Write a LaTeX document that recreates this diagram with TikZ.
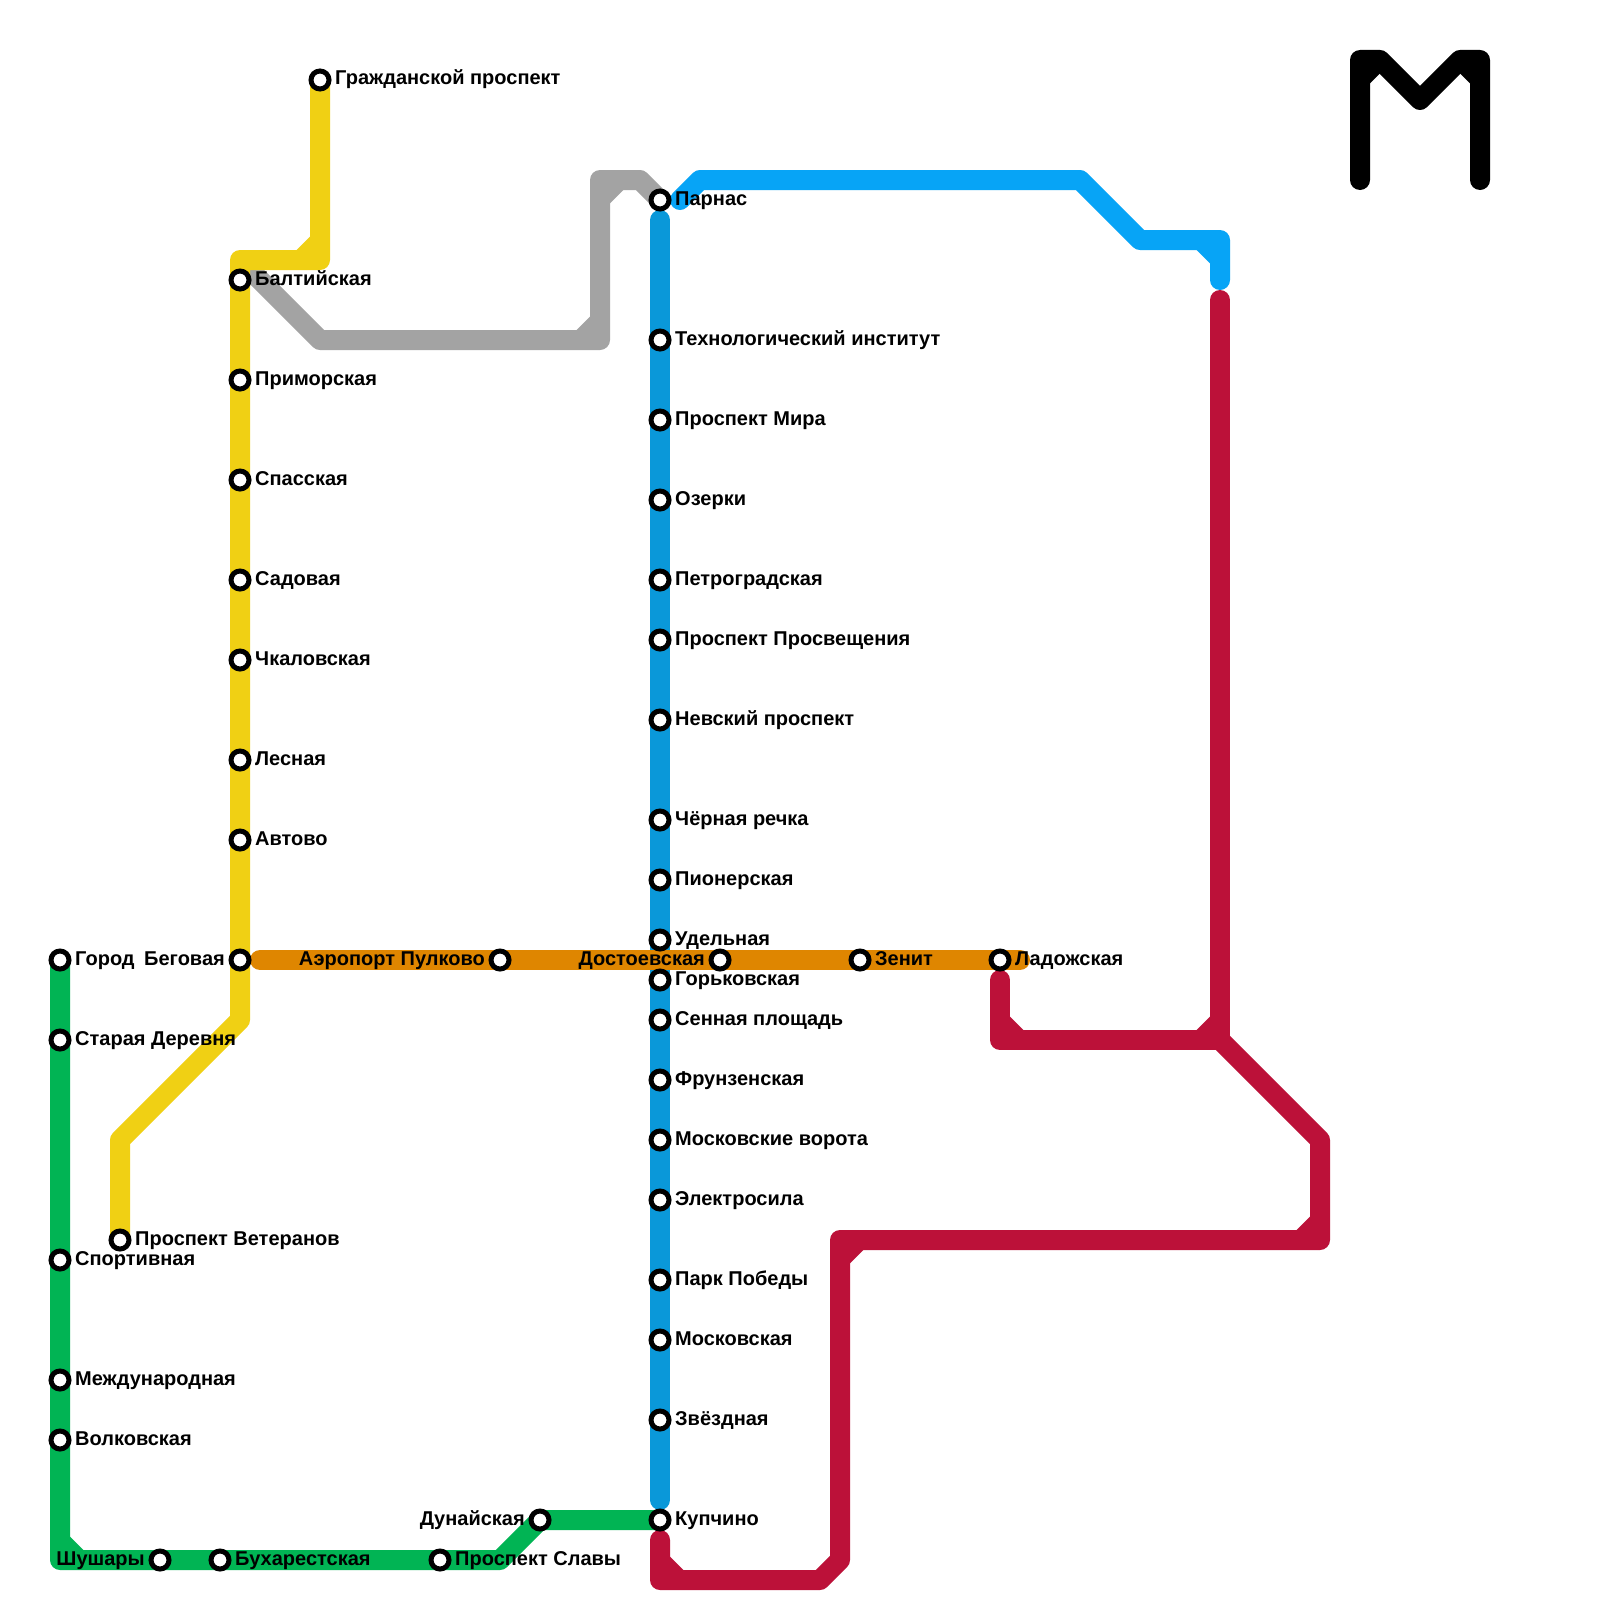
\documentclass[tikz,border=0pt]{standalone}
\usepackage{fontspec}
\setmainfont{Liberation Sans}
\usetikzlibrary{backgrounds}
\definecolor{lnyellow}{HTML}{F0D014}
\definecolor{lngray}{HTML}{A3A3A3}
\definecolor{lngreen}{HTML}{01B454}
\definecolor{lnsky}{HTML}{07A4F6}
\definecolor{lnblue}{HTML}{0A98D9}
\definecolor{lnorange}{HTML}{DF8600}
\definecolor{lnred}{HTML}{BC1139}
\tikzset{
  metro/.style={line width=20pt,line cap=round,line join=round},
  stn/.style={circle,draw=black,fill=white,line width=5pt,minimum size=18pt,inner sep=0pt,outer sep=0pt},
  lblR/.style={anchor=base west,inner sep=0pt,font=\fontsize{20}{24}\selectfont\bfseries},
  lblL/.style={anchor=base east,inner sep=0pt,font=\fontsize{20}{24}\selectfont\bfseries}
}
% station with a label to its right / left
\newcommand\stR[4]{\node[stn] (#1) at (#2,#3) {}; \node[lblR] (#1-t) at (#2+15,#3+5) {#4};}
\newcommand\stL[4]{\node[stn] (#1) at (#2,#3) {}; \node[lblL] (#1-t) at (#2-15,#3+5) {#4};}
% chamfer filling an inner corner
\newcommand\notch[5]{\fill[#1] (#2+#4*13.3,#3-#5*2) -- (#2+#4*13.3,#3) -- (#2,#3+#5*13.3) -- (#2-#4*2,#3+#5*13.3) -- (#2-#4*2,#3-#5*2) -- cycle;}
\begin{document}
\begin{tikzpicture}[x=1pt,y=-1pt]
\useasboundingbox (0,0) rectangle (1600,1600);

% yellow stations
\stR{grazh}{320}{80}{Гражданской проспект}
\stR{balt}{240}{280}{Балтийская}
\stR{prim}{240}{380}{Приморская}
\stR{spas}{240}{480}{Спасская}
\stR{sad}{240}{580}{Садовая}
\stR{chk}{240}{660}{Чкаловская}
\stR{les}{240}{760}{Лесная}
\stR{avt}{240}{840}{Автово}
\stL{beg}{240}{960}{Беговая}
\stR{vet}{120}{1240}{Проспект Ветеранов}
% green stations
\stR{gor}{60}{960}{Город}
\stR{star}{60}{1040}{Старая Деревня}
\stR{sport}{60}{1260}{Спортивная}
\stR{mezh}{60}{1380}{Международная}
\stR{volk}{60}{1440}{Волковская}
\stL{shu}{160}{1560}{Шушары}
\stR{buh}{220}{1560}{Бухарестская}
\stR{slav}{440}{1560}{Проспект Славы}
\stL{dun}{540}{1520}{Дунайская}
% blue stations
\stR{parn}{660}{200}{Парнас}
\stR{tech}{660}{340}{Технологический институт}
\stR{mira}{660}{420}{Проспект Мира}
\stR{oz}{660}{500}{Озерки}
\stR{petr}{660}{580}{Петроградская}
\stR{pros}{660}{640}{Проспект Просвещения}
\stR{nev}{660}{720}{Невский проспект}
\stR{cher}{660}{820}{Чёрная речка}
\stR{pio}{660}{880}{Пионерская}
\stR{ude}{660}{940}{Удельная}
\stR{gork}{660}{980}{Горьковская}
\stR{sen}{660}{1020}{Сенная площадь}
\stR{fru}{660}{1080}{Фрунзенская}
\stR{mvor}{660}{1140}{Московские ворота}
\stR{elek}{660}{1200}{Электросила}
\stR{park}{660}{1280}{Парк Победы}
\stR{mosk}{660}{1340}{Московская}
\stR{zvez}{660}{1420}{Звёздная}
\stR{kup}{660}{1520}{Купчино}
% orange stations
\stL{aer}{500}{960}{Аэропорт Пулково}
\stL{dost}{720}{960}{Достоевская}
\stR{zen}{860}{960}{Зенит}
\stR{lad}{1000}{960}{Ладожская}

% route corners
\coordinate (yA) at (320,260); \coordinate (yB) at (240,260);
\coordinate (yC) at (240,1020); \coordinate (yD) at (120,1140);
\coordinate (gA) at (245,265); \coordinate (gB) at (320,340); \coordinate (gC) at (600,340);
\coordinate (gD) at (600,180); \coordinate (gE) at (640,180);
\coordinate (nA) at (60,1560); \coordinate (nB) at (500,1560);
\coordinate (sA) at (680,200); \coordinate (sB) at (700,180); \coordinate (sC) at (1080,180);
\coordinate (sD) at (1140,240); \coordinate (sE) at (1220,240); \coordinate (sF) at (1220,280);
\coordinate (bA) at (660,220); \coordinate (bB) at (660,1500);
\coordinate (oA) at (260,960); \coordinate (oB) at (1020,960);
\coordinate (rA) at (1000,980); \coordinate (rB) at (1000,1040); \coordinate (rC) at (1220,1040);
\coordinate (rD) at (1220,300); \coordinate (rE) at (1320,1140); \coordinate (rF) at (1320,1240);
\coordinate (rG) at (840,1240); \coordinate (rH) at (840,1560); \coordinate (rI) at (820,1580);
\coordinate (rJ) at (660,1580); \coordinate (rK) at (660,1540);
\coordinate (mA) at (1360,180); \coordinate (mB) at (1360,60); \coordinate (mC) at (1380,60);
\coordinate (mD) at (1420,100); \coordinate (mE) at (1460,60); \coordinate (mF) at (1480,60);
\coordinate (mG) at (1480,180);

\begin{pgfonlayer}{background}
\fill[white] (0,0) rectangle (1600,1600);
% grey
\draw[metro,lngray] (gA) -- (gB) -- (gC) -- (gD) -- (gE) -- (parn.center);
\notch{lngray}{590}{330}{-1}{-1}
\notch{lngray}{610}{190}{1}{1}
% yellow
\draw[metro,lnyellow] (grazh.center) -- (yA) -- (yB) -- (yC) -- (yD) -- (vet.center);
\notch{lnyellow}{310}{250}{-1}{-1}
% green
\draw[metro,lngreen] (gor.center) -- (nA) -- (nB) -- (dun.center) -- (kup.center);
\notch{lngreen}{70}{1550}{1}{-1}
% light blue
\draw[metro,lnsky] (sA) -- (sB) -- (sC) -- (sD) -- (sE) -- (sF);
\notch{lnsky}{1210}{250}{-1}{1}
% blue
\draw[metro,lnblue] (bA) -- (bB);
% orange
\draw[metro,lnorange] (oA) -- (oB);
% red
\draw[metro,lnred] (rA) -- (rB) -- (rC) -- (rD);
\draw[metro,lnred] (rC) -- (rE) -- (rF) -- (rG) -- (rH) -- (rI) -- (rJ) -- (rK);
\notch{lnred}{1010}{1030}{1}{-1}
\notch{lnred}{1210}{1030}{-1}{-1}
\notch{lnred}{1310}{1230}{-1}{-1}
\notch{lnred}{850}{1250}{1}{1}
\notch{lnred}{670}{1570}{1}{-1}
% M logo
\draw[metro,black] (mA) -- (mB) -- (mC) -- (mD) -- (mE) -- (mF) -- (mG);
\notch{black}{1370}{70}{1}{1}
\notch{black}{1470}{70}{-1}{1}
\end{pgfonlayer}
\end{tikzpicture}
\end{document}
